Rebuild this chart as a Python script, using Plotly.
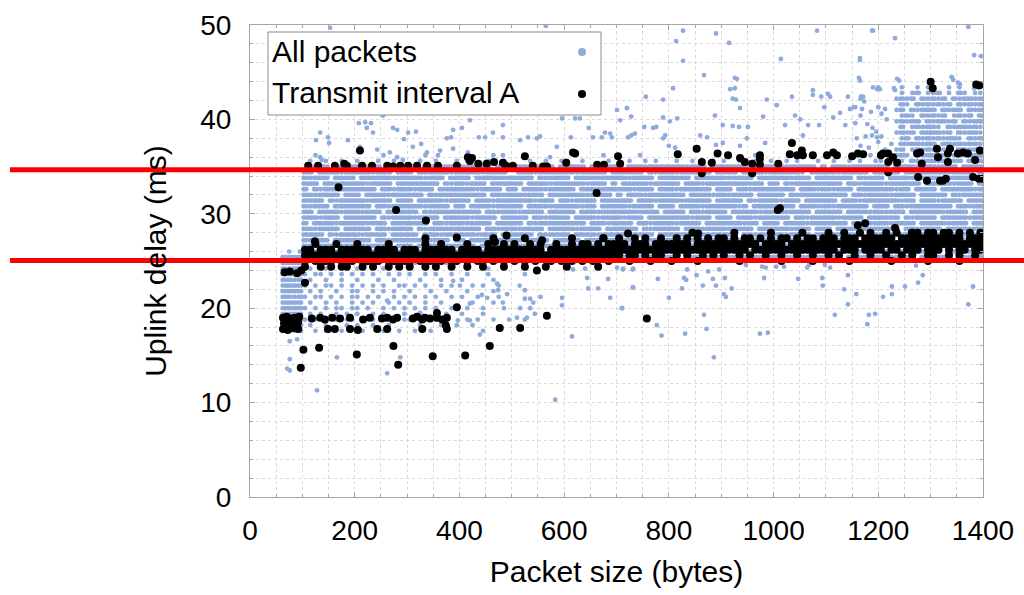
import plotly.graph_objects as go

# ---------------------------------------------------------------------------
# Dense part of the cloud, read as a bin map.
# One character per 10-byte packet-size bin, '|' separates 100-byte groups:
# first group spans 60-100 bytes, the next ones 100-200, 200-300 ... 1300-1400.
#   '#' = two packets in the bin, 'o' = one packet, '.' = none
# ---------------------------------------------------------------------------
blue_map_delay = [
    43.4, 42.8, 42.2, 41.6, 41.0, 40.4, 39.8, 39.2, 38.6, 38.0, 37.4, 36.8,
    36.2, 35.6,
    35.0, 34.4, 33.8, 33.2, 32.6, 32.0, 31.4, 30.8, 30.2, 29.6, 29.0, 28.4,
    27.8, 27.2, 26.6, 26.0, 25.4,
    24.8, 24.2, 23.6, 23.0, 22.4, 21.8, 21.2, 20.6, 20.0, 19.4, 18.8, 18.2, 17.6,
]
blue_map_bins = [
    "....|..........|..........|..........|..........|..........|..........|..........|..........|..........|..........|..........|....o..o.o|o..o.o..o.",
    "....|..........|..........|..........|..........|..........|..........|..........|..........|..........|..........|..........|....o.o#.o|o#.o.#o.oo",
    "....|..........|..........|..........|..........|..........|..........|..........|..........|..........|..........|..........|...o#o#.#o|#o#.#o##o#",
    "....|..........|..........|..........|..........|..........|..........|..........|..........|..........|..........|..........|....#o.#o#|o#o#.#o#o#",
    "....|..........|..........|..........|..........|..........|..........|..........|..........|..........|..........|..........|...o#.#o##|#.#o##.#o#",
    "....|..........|..........|..........|..........|..........|..........|..........|..........|..........|..........|..........|....o#o.#o|#o#.o#o#.#",
    "....|..........|..........|..........|..........|..........|..........|..........|..........|..........|..........|..........|...o#o##.#|o##o#.#o##",
    "....|..........|..........|..........|..........|..........|..........|..........|..........|..........|..........|..........|....#.o#o#|#o.#o##o#o",
    "....|..........|..........|..........|..........|..........|..........|..........|..........|..........|..........|..........|...o#o#.##|##o#.#o##o",
    "....|..........|..........|..........|..........|..........|..........|..........|..........|..........|..........|..........|....o#.#o#|o#o##o.#o#",
    "....|..........|..........|..........|..........|..........|..........|..........|..........|..........|..........|..........|..o.#o##o#|#.##o#o##o",
    "....|..........|..........|..........|..........|..........|..........|..........|..........|..........|..........|..........|...o#.o#o#|o#o#.##o#.",
    "....|..o.......|.....o....|...o......|......o...|..o.......|.......o..|....o.....|.o........|......o...|...o......|........o.|o..o#o.#o#|#o#.o#o#o#",
    "....|.o..o..o..|o...o..o..|..o..o...o|.o...o..o.|...o..o..o|o..o....o.|..o..o.o..|.o..o...o.|o..o..o..o|..o.o...o.|.o..o.o..o|o.o#o.#o#o|#o##o#.#o#",
    "....|.#o##.##o#|#o###.####|##.###o###|#o####.###|###o####.#|####.#o###|#.###o####|###o###.##|#####.#o##|##o#####.#|.###o#####|##.####o##|#o###.####",
    "....|##.####o##|###o###.##|#.######o#|####o####.|.###o#####|##o#####.#|#####.#o##|#o######.#|###.####o#|#####o.###|##o#####.#|####.##o##|###o####.#",
    "....|#o###.####|.######o##|###o###.##|##.#####o#|####.#o###|#.###o####|##o####.##|####.#####|#o####.###|###o###.##|#####.#o##|#.####o###|##.######o",
    "....|###.##o###|##o####.##|######.#o#|#o###.####|##.####o##|####o###.#|.#####o###|##.###o###|#####o##.#|#.#o######|###.##o###|#o######.#|####o###.#",
    "....|#.#o######|####.##o##|#o###.####|###o####.#|#.####o###|##.###o###|###o###.##|#o######.#|##.##o####|####.###o#|#o###.####|###o##.###|#.######o#",
    "....|##o####.##|#.####o###|###.#o####|#####.##o#|##o###.###|####o####.|#.###o####|###.####o#|#o####.###|##.#o#####|####.##o##|##o####.##|###.#o####",
    "....|####.#o###|##o####.##|#.#####o##|##.###o###|####o###.#|#o####.###|###.###o##|##o#####.#|####.#o###|#o###.####|##.###o###|####o##.##|#o####.###",
    "....|#o###.####|###.##o###|###o####.#|#.####o###|##.####o##|###o##.###|##o####.##|#.####o###|###o#.####|####.###o#|#o######.#|##.##o####|####.##o##",
    "....|##.####o##|#o###.####|##.#o#####|####.##o##|#o####.###|##.###o###|####o###.#|###.##o###|#.#####o##|##o####.##|###.####o#|#o###.####|##o####.##",
    "....|###o###.##|####.#o###|#o####.###|##o####.##|###.##o###|#.####o###|#o###.####|####o###.#|##.###o###|###.##o###|##o####.##|####.#o###|#.#####o##",
    "....|#.####o###|##o###.###|####.##o##|#o####.###|##.#o#####|####.###o#|###.##o###|#o####.###|####o##.##|#.####o###|####.###o#|##o####.##|###o###.##",
    "....|##o####.##|###.##o###|#.#o######|####.##o##|#o####.###|##o####.##|####.#o###|##.###o###|#o####.###|###o###.##|#.####o###|####.##o##|##.####o##",
    "....|####.#o###|#o####.###|##.###o###|###o###.##|####.#o###|#.####o###|##o####.##|####.##o##|###.##o###|##o####.##|###o###.##|#.####o###|#o###.####",
    "....|#o###.####|###.##o###|####o###.#|#.####o###|##o####.##|###.##o###|####.#o###|#o###.####|##.###o###|####.##o##|#o####.###|###.##o###|##o####.##",
    "....|##.####o##|##o####.##|#.####o###|###.##o###|####o###.#|#o####.###|###.##o###|##o####.##|####.#o###|#.###o####|##o####.##|####.##o##|###o###.##",
    ".o.o|###o###.##|#.####o###|###.##o###|##o####.##|#o####.###|####.#o###|##.###o###|###o###.##|#.####o###|##o####.##|####.#o###|#o###.####|##.###o###",
    "####|#o###.####|###.##o###|##o####.##|####.#o###|##.###o###|#o####.###|###o###.##|##.####o##|####o###.#|#.####o###|###.##o###|##o####.##|####.#o###",
    "####|o..o.o..o.|..o....o..|.o.....o..|..........|..........|..........|..........|..........|..........|..........|..........|..........|..........",
    "#o##|.o..o...o.|o....o....|...o......|.....o....|..........|..........|..........|..........|..........|..........|..........|..........|..........",
    "####|o.oo.o.o.o|.o.o..o.o.|o..o.o..o.|.o...o....|..o.......|..........|..........|..........|..........|..........|..........|..........|..........",
    "##o#|.o..o..o..|o...o..o..|..o...o...|o.....o...|..........|..........|..........|..........|..........|..........|..........|..........|..........",
    "####|o.o.oo.o.o|.o.o.o..oo|.o.o..o.o.|..o.o..o..|.o........|..........|..........|..........|..........|..........|..........|..........|..........",
    "####|.o.o..o..o|o..o.o.o..|o...o..o..|.o....o...|..........|..........|..........|..........|..........|..........|..........|..........|..........",
    "##o#|o.oo.o.o.o|o.o.o..o.o|.o.o.o..o.|o..o...o..|.....o....|..........|..........|..........|..........|..........|..........|..........|..........",
    "####|.o..o.o..o|.o.o..o.o.|o..o..o...|..o...o...|..........|..........|..........|..........|..........|..........|..........|..........|..........",
    "####|o.o.o.oo.o|o.o..o.o.o|.o.o.o..o.|.o..o...o.|...o......|..........|..........|..........|..........|..........|..........|..........|..........",
    "#o##|.o.o..o.o.|o..o.o...o|..o..o.o..|o...o.....|..........|..........|..........|..........|..........|..........|..........|..........|..........",
    "####|o.o.o.o.oo|.o.o.o.o.o|o.o..o.o..|.o.o..o..o|..o.......|..........|..........|..........|..........|..........|..........|..........|..........",
    "####|.o..o...o.|o..o..o...|..o...o..o|..o.......|..........|..........|..........|..........|..........|..........|..........|..........|..........",
    "##o#|..o.o..o..|.o...o..o.|.o..o.....|....o.....|..........|..........|..........|..........|..........|..........|..........|..........|..........",
]

# Isolated "All packets" points (packet size in bytes, delay in ms)
blue_size = [
    153, 565, 254, 134, 126, 151, 149, 134, 137, 187, 208, 220, 231, 235, 223,
    210, 243, 267, 281, 292, 273, 281, 302, 317, 294, 311, 327, 338, 359, 363,
    376, 384, 388, 405, 420, 437, 449, 464, 483, 483, 483, 516, 531, 548, 554,
    573, 586, 596, 613, 621, 630, 647, 655, 672, 678, 688, 691, 701, 707, 720,
    722, 728, 735, 388, 416,
    827, 814, 827, 890, 915, 867, 808, 926, 930, 917, 926, 922, 928, 936, 756,
    789, 720, 728, 753, 770, 776, 789, 802, 816, 793, 789, 800, 812, 860, 873,
    856, 888, 903, 922, 934, 951, 890, 903, 936, 949, 980, 987, 984, 1006, 1014,
    1022, 1035, 1041, 1051, 1056, 1066, 1075, 1075, 1083, 1087, 1091, 1097, 1104,
    1108, 1114, 1127, 1137, 1142, 1146, 1156, 1165, 1163, 1167, 1171, 1188, 1190,
    1200, 1200, 1188, 1198, 1372, 1383, 1340, 1343,
    1190, 1232, 1165, 1396, 1165, 1236, 1240, 1198, 1203, 1230, 1232, 1352, 1356,
    1383, 1166, 1173, 1153, 1169, 1186, 1166, 1156, 1179, 1189, 1213, 1206, 1216,
    1196, 1206, 1176, 1159, 1166, 1182, 1200, 1213,
    712, 731, 731, 710, 779, 777, 786, 800, 825, 829, 833, 835, 831, 853, 865,
    867, 872, 875, 886, 884, 890, 896, 905, 909, 920, 907, 947, 974, 989, 978,
    985, 982, 1005, 1020, 1047, 1064, 1068, 1093, 1094, 1098, 1108, 1117, 1135,
    1142, 1142, 1158, 1179, 1182, 1194, 1209, 1226, 1226, 1251, 1272, 1276, 1285,
    1372, 1381, 1394,
    583, 615, 596, 596, 644, 646, 665, 684, 688, 711, 732, 701, 713, 732, 640,
    617, 602, 525, 525, 516, 535, 541, 544, 529, 510, 483, 491, 474, 472, 453,
    443, 439, 420, 420, 401, 388, 397, 357, 325, 287, 262, 262, 166, 128, 76,
    90, 76, 71, 76,
]
blue_delay = [
    49.7, 49.9, 40.4, 38.6, 37.8, 37.5, 38.1, 36.0, 35.7, 37.8, 39.6, 39.7, 39.6, 38.6, 39.1,
    37.1, 36.8, 36.5, 36.0, 35.7, 39.1, 38.9, 38.6, 38.7, 37.9, 37.1, 37.4, 36.5, 36.2, 36.7,
    38.0, 38.1, 36.9, 39.1, 39.9, 38.1, 38.1, 38.6, 39.4, 38.1, 36.2, 37.8, 38.1, 38.0, 38.2,
    36.0, 37.1, 40.1, 38.1, 40.1, 40.1, 39.1, 38.1, 38.1, 38.6, 38.5, 38.1, 41.0, 39.9, 41.2,
    38.1, 38.3, 38.5, 38.9, 36.5,
    49.4, 48.3, 46.2, 49.1, 48.1, 44.7, 43.3, 44.4, 44.3, 43.2, 43.3, 42.2, 42.1, 41.2, 42.4,
    42.1, 41.2, 40.3, 39.2, 39.1, 39.2, 40.2, 39.8, 40.1, 38.3, 38.0, 37.2, 37.0, 38.3, 38.1,
    37.0, 40.4, 39.4, 39.3, 39.2, 39.2, 37.3, 37.5, 37.2, 38.0, 40.3, 42.1, 37.5, 41.5, 46.4,
    39.4, 42.4, 40.4, 40.0, 38.3, 39.4, 43.1, 42.6, 49.4, 39.4, 42.4, 41.3, 42.7,
    42.4, 40.2, 40.7, 39.4, 42.4, 41.1, 41.3, 46.5, 44.4, 42.4, 42.4, 49.4, 43.4,
    43.4, 41.3, 38.3, 38.1, 49.8, 46.8, 44.5, 44.2,
    49.4, 48.6, 46.3, 46.7, 44.1, 44.3, 44.1, 43.2, 43.2, 43.3, 43.1, 43.9, 43.7,
    43.3, 42.2, 41.9, 41.3, 41.1, 40.8, 40.4, 39.6, 39.5, 39.1, 41.1, 40.6, 40.0,
    38.7, 38.2, 38.2, 38.0, 37.2, 37.0, 37.6, 36.8,
    24.1, 24.1, 22.2, 20.0, 23.1, 18.2, 17.1, 21.1, 22.1, 23.2, 23.0, 24.1, 17.3, 23.5, 22.4,
    19.3, 17.8, 23.9, 14.8, 23.1, 22.4, 24.1, 21.5, 21.2, 22.1, 23.2, 24.6, 17.3, 17.4, 24.4,
    24.3, 23.2, 24.4, 24.4, 23.1, 24.3, 24.6, 23.2, 22.4, 24.6, 24.3, 19.3, 22.0,
    23.5, 20.4, 21.5, 18.3, 19.3, 19.4, 21.2, 22.3, 21.5, 22.3, 24.5, 22.7, 23.5,
    20.4, 22.3, 25.7,
    10.3, 17.0, 20.3, 21.1, 23.2, 22.1, 22.1, 23.1, 21.1, 20.0, 22.2, 24.3, 24.2, 24.2, 24.2,
    24.1, 24.3, 21.9, 21.0, 20.0, 21.0, 20.6, 19.4, 19.0, 19.0, 20.6, 21.5, 21.9, 22.6, 21.1,
    21.4, 17.2, 20.5, 18.7, 22.4, 22.9, 18.7, 19.4, 19.5, 14.8, 13.1, 20.8, 14.8, 11.3, 14.6,
    16.7, 16.5, 13.6, 13.4,
]

# Transmit interval A: dense band near 26-27 ms, same bin-map layout
black_map_delay = [28.0, 27.4, 26.8, 26.2, 25.6, 25.0, 24.4]
black_map_bins = [
    "....|..........|..........|..........|..........|..........|..........|..........|....o.....|..o......o|.....o....|o..o..o.o.|.o.o..oo.o|o.oo.o.o.o",
    "....|..........|..........|...o......|......o...|..o.......|.o.....o..|o..o.o..o.|.o.o.o.o.o|o.o.oo.o.o|.oo.o.oo.o|oo.ooo.ooo|ooo.oooooo|oooooo.ooo",
    "....|..o...o...|o.....o...|...o..o...|.o...o..o.|o..o.o..o.|.o.oo.o.oo|oo.ooo.ooo|oooo.ooooo|ooooooo.oo|oo.ooooooo|oooooooooo|oooooooooo|oooooooooo",
    "....|oo.ooo.ooo|ooo.oooo.o|oo.oooooo.|oooo.ooooo|oooooo.ooo|oooooooooo|oooooooooo|oooooooooo|ooooo.oooo|oooooooooo|oo.ooo.ooo|o.oo.ooo.o|oo.o.oo.oo",
    "....|oooooooooo|oooooooooo|oooooooooo|oooooooooo|oooooooooo|oooooooooo|o.oo.o.oo.|.o.o..o.o.|o..o.o..o.|.o..o..o..|o.o..o..o.|.o..o.o..o|o..o.o..o.",
    "....|o.o.oo.o.o|.oo.o.oo.o|o.o.o.o.oo|.o.oo.o.o.|o.o.o..o.o|.o.o.o..o.|..o...o...|o....o....|...o......|.o.....o..|....o.....|..o......o|.....o....",
    "....|o..o.o.oo.|.o.o..o.o.|o..o.o..o.|.o..o...o.|..o...o...|o.....o...|..........|..........|..........|..........|..........|..........|..........",
]

# Isolated "Transmit interval A" points
black_size = [
    63, 70, 78, 86, 94, 65, 75, 84, 92, 63, 72, 82, 92, 66, 76, 90, 98, 105,
    118, 134, 143, 157, 172, 191, 216, 229, 252, 262, 273, 281, 311, 319, 329,
    334, 344, 357, 367, 376, 149, 162, 191, 206, 243, 262, 329, 376, 395, 357,
    374, 567, 516, 477, 758, 548,
    102, 132, 204, 274, 283, 349, 411, 458, 97,
    111, 130, 162, 180, 185, 210, 214, 233, 262, 273, 287, 302, 319, 338, 359,
    395, 416, 420, 424, 436, 452, 466, 483, 489, 502, 525, 540, 560, 567, 604,
    617, 621, 663, 676, 703, 707, 817, 853, 863, 863, 882, 893, 913, 936, 945,
    959, 959, 974, 974, 974, 1009, 1035, 1031, 1045, 1054, 1056, 1075, 1102, 1114,
    1121, 1150, 1161, 1171, 1205, 1209, 1219, 1228, 1219, 1236, 1219, 1274, 1280,
    1283, 1276, 1293, 1314, 1312, 1318, 1323, 1329, 1333, 1337, 1333, 1352, 1362,
    1371, 1385, 1394, 1381, 1392, 1400, 1300, 1304, 1387, 1393,
    169, 279, 336, 662, 1008, 1012, 124, 395, 490, 468, 558, 675, 722, 856,
    1161, 1175, 1232, 1264,
]
black_delay = [
    19.0, 19.1, 18.9, 19.0, 19.1, 18.4, 18.5, 18.3, 18.5, 17.8, 17.7, 17.9, 17.8, 23.8, 23.9, 23.7, 24.0, 22.7,
    18.9, 19.0, 18.8, 19.0, 18.9, 19.0, 18.8, 19.0, 18.9, 19.0, 18.8, 19.0, 18.9, 19.1, 18.8,
    19.0, 18.9, 19.0, 18.8, 19.0, 17.8, 17.8, 17.8, 17.7, 17.8, 17.8, 17.8, 17.8, 20.1, 19.5,
    18.2, 19.2, 17.9, 17.9, 18.9, 24.0,
    15.6, 15.8, 15.1, 16.0, 14.0, 14.9, 15.0, 16.0, 13.7,
    35.1, 35.1, 35.1, 35.3, 35.1, 36.7, 35.1, 35.1, 35.1, 35.0, 35.1, 35.1, 35.1, 35.1, 35.1,
    35.1, 36.0, 35.6, 35.9, 35.3, 35.3, 35.5, 35.4, 35.1, 35.1, 36.1, 35.1, 35.0, 35.0, 35.4,
    36.5, 36.4, 35.2, 35.2, 36.1, 35.3, 36.3, 36.9, 35.5, 34.3, 35.4, 36.4, 36.2, 35.9, 35.5,
    35.3, 34.3, 36.2, 35.8, 35.2, 35.3, 37.5, 36.3, 36.2, 36.7, 36.2, 36.2, 36.2, 36.5,
    36.2, 36.1, 36.4, 36.3, 36.2, 36.4, 36.4, 36.0, 35.5, 35.4, 34.4, 36.4, 36.5,
    35.3, 33.9, 33.5, 36.0, 36.9, 33.5, 33.5, 33.7, 36.4, 36.9, 35.5, 36.4, 36.5,
    36.4, 35.7, 36.7, 33.9, 33.7, 33.7, 44.0, 43.3, 43.7, 43.6,
    32.8, 30.4, 29.3, 32.2, 30.4, 30.6, 27.1, 27.5, 27.7, 27.0, 27.2, 27.4, 27.9, 27.9,
    28.8, 29.0, 28.5, 28.0,
]

# Reference levels marked across the chart (ms)
ref_levels = [34.66, 25.05]

x_ticks = [0, 200, 400, 600, 800, 1000, 1200, 1400]
y_ticks = [0, 10, 20, 30, 40, 50]

BIN = 10


def expand(rows_delay, rows_bins):
    """Turn a bin map into packet-size / delay pairs."""
    xs, ys = [], []
    for delay, row in zip(rows_delay, rows_bins):
        for g, group in enumerate(row.split("|")):
            start = 60 if g == 0 else 100 * g
            for i, ch in enumerate(group):
                lo = start + BIN * i
                if ch == "#":
                    xs += [lo + 2.5, lo + 7.5]
                    ys += [delay, delay]
                elif ch == "o":
                    xs.append(lo + 5)
                    ys.append(delay)
    return xs, ys


bx, by = expand(blue_map_delay, blue_map_bins)
kx, ky = expand(black_map_delay, black_map_bins)

BLUE = "#8FAADC"
FONT = "Liberation Sans, Arial, sans-serif"

fig = go.Figure()
fig.add_trace(go.Scatter(
    x=bx + blue_size, y=by + blue_delay, mode="markers", name="All packets",
    marker=dict(color=BLUE, size=4.8, line=dict(width=0)), showlegend=False,
))
fig.add_trace(go.Scatter(
    x=kx + black_size, y=ky + black_delay, mode="markers", name="Transmit interval A",
    marker=dict(color="black", size=8, line=dict(width=0)), showlegend=False,
))

# plot-area pixel geometry: left 250, right 983, top 25, bottom 497
L, R, T, B = 250, 41, 25, 98
W, H = 1024, 595
pw, ph = W - L - R, H - T - B


def px_x(p):
    return (p - L) / pw


def px_y(p):
    return (H - B - p) / ph


shapes = []
for lvl in ref_levels:
    shapes.append(dict(type="line", xref="paper", yref="y",
                       x0=px_x(10), x1=px_x(1024), y0=lvl, y1=lvl,
                       line=dict(color="#FF0000", width=5), layer="above"))

# legend box with symbols on the right
shapes.append(dict(type="rect", xref="paper", yref="paper",
                   x0=px_x(268), x1=px_x(601), y0=px_y(115), y1=px_y(32),
                   fillcolor="white", line=dict(color="#8c8c8c", width=1),
                   layer="above"))
for cy, col in [(52, BLUE), (94, "black")]:
    r = 4
    shapes.append(dict(type="circle", xref="paper", yref="paper",
                       x0=px_x(582 - r), x1=px_x(582 + r),
                       y0=px_y(cy + r), y1=px_y(cy - r),
                       fillcolor=col, line=dict(width=0), layer="above"))

annotations = [
    dict(text="All packets", xref="paper", yref="paper", x=px_x(270), y=px_y(52),
         xanchor="left", yanchor="middle", showarrow=False,
         font=dict(family=FONT, size=30, color="black")),
    dict(text="Transmit interval A", xref="paper", yref="paper", x=px_x(270), y=px_y(93),
         xanchor="left", yanchor="middle", showarrow=False,
         font=dict(family=FONT, size=30, color="black")),
]

grid = dict(showgrid=True, gridcolor="#d9d9d9", griddash="dot", gridwidth=1)

fig.update_layout(
    width=W, height=H,
    margin=dict(l=L, r=R, t=T, b=B, autoexpand=False),
    paper_bgcolor="white", plot_bgcolor="white",
    font=dict(family=FONT, color="black"),
    shapes=shapes, annotations=annotations,
    xaxis=dict(
        range=[0, 1400], tickvals=x_ticks, ticks="inside", ticklen=5,
        tickcolor="#a6a6a6", showline=True, linecolor="#a6a6a6", mirror="ticks",
        zeroline=False, tickfont=dict(size=28), ticklabelstandoff=8,
        title=dict(text="Packet size (bytes)", font=dict(size=30), standoff=16),
        minor=dict(dtick=50, ticks="inside", ticklen=3, tickcolor="#a6a6a6", **grid),
        **grid,
    ),
    yaxis=dict(
        range=[0, 50], tickvals=y_ticks, ticks="inside", ticklen=5,
        tickcolor="#a6a6a6", showline=True, linecolor="#a6a6a6", mirror="ticks",
        zeroline=False, tickfont=dict(size=28), ticklabelstandoff=12,
        title=dict(text="Uplink delay (ms)", font=dict(size=30), standoff=24),
        minor=dict(dtick=2, ticks="inside", ticklen=3, tickcolor="#a6a6a6", **grid),
        **grid,
    ),
)

fig.write_html("out.html")
